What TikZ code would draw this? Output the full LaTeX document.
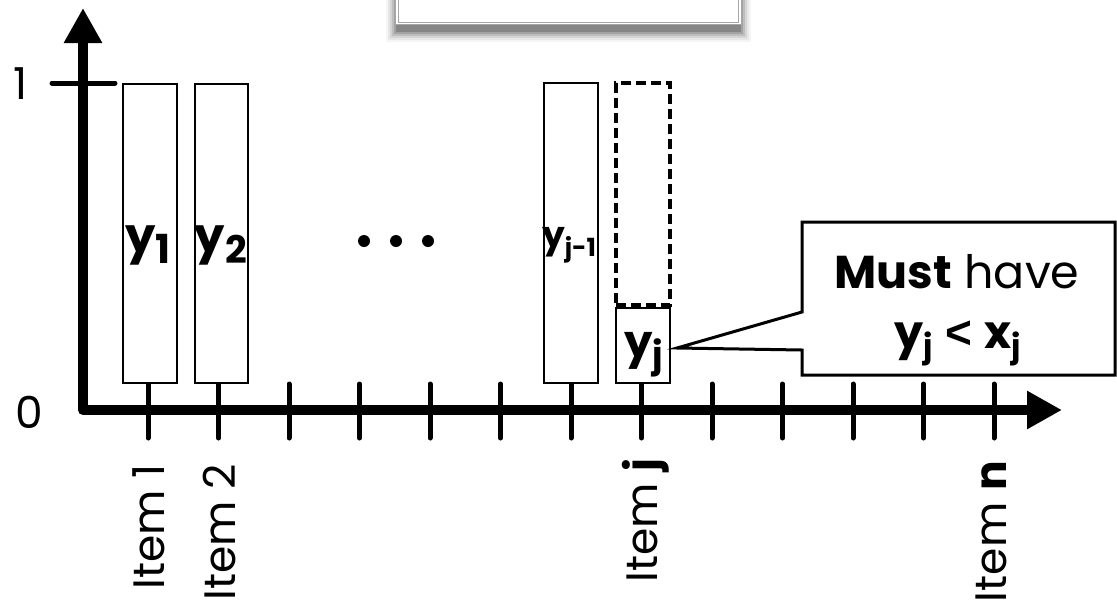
\documentclass[tikz,border=0pt]{standalone}
\usepackage{fontspec}
\setmainfont{Poppins}
\newfontfamily\ltfont{Liberation Sans}
\usetikzlibrary{arrows.meta}
\newcommand\yl[5]{{\fontsize{#1}{#1}\selectfont\bfseries #5}\raisebox{-#3pt}{\fontsize{#2}{#2}\selectfont\bfseries #4}}
\newcommand\fs[1]{\fontsize{#1}{#1}\selectfont}
\begin{document}
\begin{tikzpicture}[x=1pt,y=-1pt,
  axis/.style={line width=10pt, line join=round},
  tickmark/.style={line width=5pt, line cap=round},
  bar/.style={draw, line width=1.5pt, inner sep=0pt, fill=white},
  dashbar/.style={draw, line width=3.5pt, inner sep=0pt, dash pattern=on 10pt off 5pt},
  itemlabel/.style={rotate=90, anchor=east, inner sep=0pt, font=\fs{44}},
  ticklabel/.style={inner sep=0pt, font=\fs{44}},
  topbox/.style={draw=gray!70, double=white, double distance=1.6pt, line width=1pt, fill=white, inner sep=0pt},
  callout/.style={draw, line width=3pt, fill=white, line join=miter}
]
\useasboundingbox (0,0) rectangle (1117,606);

% top box with soft shadow
\foreach \s/\o in {11/0.04,9/0.06,7/0.08,5/0.11,3/0.14,1/0.18}
  \fill[black, opacity=\o] (397-\s,-20) rectangle (740+\s,31+\s);
\node[topbox, minimum width=343pt, minimum height=68pt] (top) at (568.5,-10.5) {};

% axes
\coordinate (O) at (83,410);
\coordinate (ytip) at (83,8);
\coordinate (xtip) at (1062,410);
\draw[axis, {Triangle[length=35pt,width=36pt]}-{Triangle[length=35pt,width=36pt]}] (ytip) -- (O) -- (xtip);

% tick for 1
\coordinate (one-l) at (52,83);
\coordinate (one-r) at (115,83);
\draw[tickmark] (one-l) -- (one-r);
\node[ticklabel] (lab1) at (21,84) {1};
\node[ticklabel] (lab0) at (29,412) {0};

% x ticks
\foreach \i in {0,...,12}
  \draw[tickmark] (148+70.5*\i,384) -- ++(0,54);

% bars
\node[bar, minimum width=54pt, minimum height=299pt] (b1) at (150,233.5) {};
\node[bar, minimum width=53pt, minimum height=299pt] (b2) at (221.5,233.5) {};
\node[bar, minimum width=54pt, minimum height=300pt] (bj1) at (571,233) {};
\node[dashbar, minimum width=54pt, minimum height=222pt] (bjd) at (643,194) {};
\node[bar, minimum width=54pt, minimum height=75pt] (bj) at (643,345.5) {};

% bar labels
\node[inner sep=0pt] (ly1) at (148,245) {\yl{48}{40}{11}{1}{y}};
\node[inner sep=0pt] (ly2) at (221,245) {\yl{48}{38}{11}{2}{y}};
\node[inner sep=0pt] (lyj1) at (569,245) {\yl{36}{25}{9}{j-1}{y}};
\node[inner sep=0pt] (lyj) at (644,355) {\yl{45}{36}{10}{j}{y}};

% dots
\foreach \x in {364,396,428}
  \fill (\x,241) circle (6pt);

% callout
\coordinate (ptip) at (677,348);
\draw[callout] (802,222) -- (1115,222) -- (1115,375) -- (802,375) -- (802,350) -- (ptip) -- (802,312) -- cycle;
\node[anchor=base, inner sep=0pt, font=\fs{46}] (must) at (957,288) {\textbf{Must} have};
\node[anchor=base, inner sep=0pt] (cond) at (958,348) {\yl{46}{32}{9}{j}{y}{\fs{46}\ }{\ltfont\fs{46}\bfseries <}{\fs{46}\ }\yl{46}{32}{9}{j}{x}};

% item labels
\node[itemlabel] (it1) at (149,464) {Item 1};
\node[itemlabel] (it2) at (220,464) {Item 2};
\node[itemlabel] (itj) at (646,458) {Item \textbf{j}};
\node[itemlabel] (itn) at (991,461) {Item \textbf{n}};
\end{tikzpicture}
\end{document}
